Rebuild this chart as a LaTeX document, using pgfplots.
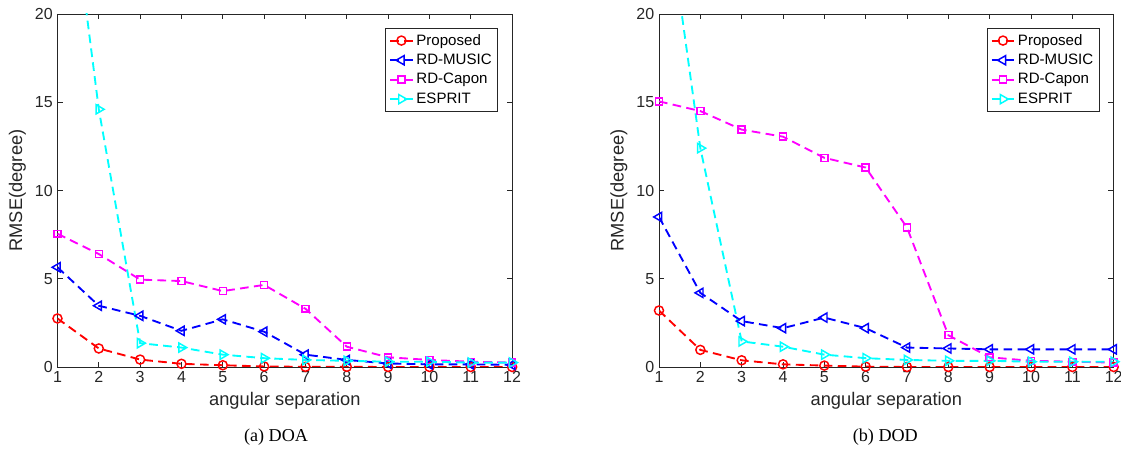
\documentclass[border=0pt]{standalone}
\usepackage{pgfplots}
\pgfplotsset{compat=1.18}
\usepackage{fontspec}
\setmainfont{Liberation Sans}
\newfontfamily\capfont{Liberation Serif}

\definecolor{axgray}{rgb}{0.15,0.15,0.15}
\definecolor{mred}{rgb}{1,0,0}
\definecolor{mblue}{rgb}{0,0,1}
\definecolor{mmag}{rgb}{1,0,1}
\definecolor{mcyan}{rgb}{0,1,1}

\pgfplotsset{
  mlab/.style={
    scale only axis, width=341pt, height=264.75pt,
    anchor=south west,
    xmin=1, xmax=12, ymin=0, ymax=20,
    xtick={1,...,12}, ytick={0,5,10,15,20},
    tick align=inside, tick pos=both,
    major tick length=4pt,
    axis line style={axgray, line width=0.6pt},
    every tick/.style={axgray, line width=0.6pt},
    tick label style={font=\fontsize{12}{14}\selectfont, text=axgray},
    /pgf/number format/assume math mode=true,
    label style={font=\fontsize{13.7}{16}\selectfont, text=axgray},
    xlabel={angular separation},
    ylabel={RMSE(degree)},
    legend cell align=left,
    legend style={at={(1,1)}, anchor=north east, xshift=-10.5pt, yshift=-10.3pt,
      font=\fontsize{11.3}{13}\selectfont, draw=axgray, line width=0.6pt,
      inner sep=2.5pt, row sep=1.2pt},
  },
  base/.style={line width=1.4pt, dash pattern=on 6.5pt off 4pt},
  sprop/.style={base, mred, mark=o, mark size=3.4pt,
    mark options={solid, line width=1.1pt}},
  smusic/.style={base, mblue, mark=triangle, mark size=4pt,
    mark options={solid, line width=1.1pt, rotate=90}},
  scapon/.style={base, mmag, mark=square, mark size=2.6pt,
    mark options={solid, line width=1.1pt}},
  sesprit/.style={base, mcyan, mark=triangle, mark size=4pt,
    mark options={solid, line width=1.1pt, rotate=-90}},
}

\begin{document}
\begin{tikzpicture}
\useasboundingbox (0,0) rectangle (840.75pt,336.75pt);

\begin{axis}[mlab, at={(43.1pt,61.5pt)}]
\addplot[sprop] coordinates {
  (1,2.75)(2,1.05)(3,0.42)(4,0.18)(5,0.10)(6,0.03)(7,0.01)(8,0.01)(9,0.0)(10,0.0)(11,0.0)(12,0.0)
};
\addlegendentry{Proposed}
\addplot[smusic] coordinates {
  (1,5.65)(2,3.47)(3,2.9)(4,2.05)(5,2.7)(6,2.0)(7,0.7)(8,0.4)(9,0.2)(10,0.15)(11,0.15)(12,0.12)
};
\addlegendentry{RD-MUSIC}
\addplot[scapon] coordinates {
  (1,7.55)(2,6.4)(3,4.95)(4,4.87)(5,4.3)(6,4.65)(7,3.3)(8,1.15)(9,0.55)(10,0.4)(11,0.3)(12,0.25)
};
\addlegendentry{RD-Capon}
\addplot[sesprit] coordinates {
  (1,33.0)(2,14.6)(3,1.35)(4,1.1)(5,0.7)(6,0.5)(7,0.4)(8,0.35)(9,0.3)(10,0.3)(11,0.25)(12,0.25)
};
\addlegendentry{ESPRIT}
\end{axis}

\begin{axis}[mlab, at={(494.25pt,61.5pt)}]
\addplot[sprop] coordinates {
  (1,3.2)(2,0.97)(3,0.38)(4,0.15)(5,0.08)(6,0.02)(7,0.0)(8,0.0)(9,0.0)(10,0.0)(11,0.0)(12,0.0)
};
\addlegendentry{Proposed}
\addplot[smusic] coordinates {
  (1,8.5)(2,4.2)(3,2.6)(4,2.2)(5,2.8)(6,2.2)(7,1.1)(8,1.05)(9,1.0)(10,1.0)(11,1.0)(12,1.0)
};
\addlegendentry{RD-MUSIC}
\addplot[scapon] coordinates {
  (1,15.05)(2,14.5)(3,13.45)(4,13.05)(5,11.85)(6,11.3)(7,7.9)(8,1.8)(9,0.55)(10,0.35)(11,0.3)(12,0.25)
};
\addlegendentry{RD-Capon}
\addplot[sesprit] coordinates {
  (1,29.3)(2,12.4)(3,1.45)(4,1.15)(5,0.7)(6,0.5)(7,0.4)(8,0.35)(9,0.35)(10,0.3)(11,0.3)(12,0.3)
};
\addlegendentry{ESPRIT}
\end{axis}

\node[font=\capfont\fontsize{13.6}{16}\selectfont] at (207pt,9pt) {(a) DOA};
\node[font=\capfont\fontsize{13.6}{16}\selectfont] at (664pt,9pt) {(b) DOD};
\end{tikzpicture}
\end{document}
